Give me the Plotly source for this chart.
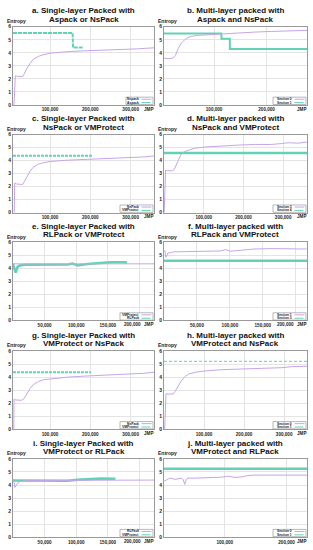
import plotly.graph_objects as go

W, H = 313, 550

# ---------------- data ----------------
titles_l1 = ["a. Single-layer Packed with", "b. Multi-layer packed with",
             "c. Single-layer Packed with", "d. Multi-layer packed with",
             "e. Single-layer Packed with", "f. Multi-layer packed with",
             "g. Single-layer Packed with", "h. Multi-layer packed with",
             "i. Single-layer Packed with", "j. Multi-layer packed with"]
titles_l2 = ["Aspack or NsPack", "Aspack and NsPack", "NsPack or VMProtect",
             "NsPack and VMProtect", "RLPack or VMProtect", "RLPack and VMProtect",
             "VMProtect or NsPack", "VMProtect and NsPack", "VMProtect or RLPack",
             "VMProtect and RLPack"]
names_purple = ["Nspack", "Section 0", "NsPack", "Section 3", "VMProtect",
                "Section 1", "NsPack", "Section 0", "RLPack", "Section 0"]
names_green = ["Aspack", "Section 1", "VMProtect", "Section 4", "RLPack",
               "Section 3", "VMProtect", "Section 1", "VMProtect", "Section 1"]

x_ranges = [[8000, 358000], [4600, 277000], [8000, 358000], [0, 360000],
            [0, 223000], [0, 217000], [8000, 358000], [0, 357000],
            [0, 223000], [1600, 233000]]
x_ticks = [[100000, 200000, 300000], [100000, 200000], [100000, 200000, 300000],
           [100000, 200000, 300000], [50000, 100000, 150000, 200000],
           [50000, 100000, 150000, 200000], [100000, 200000, 300000],
           [100000, 200000, 300000], [50000, 100000, 150000, 200000],
           [100000, 200000]]
y_ticks = [0, 1, 2, 3, 4, 5, 6]

a_p_x = [10400, 13800, 17000, 32000, 35000, 42000, 50000, 58000, 71000, 83000,
         100000, 125000, 150000, 183000, 224000, 266000, 291000, 316000, 340000, 358000]
a_p_y = [0, 2.23, 2.2, 2.18, 2.33, 2.78, 3.16, 3.49, 3.72, 3.85,
         3.97, 4.05, 4.10, 4.15, 4.18, 4.23, 4.28, 4.30, 4.35, 4.38]
a_g_x = [8000, 156000, 157000, 181000]
a_g_y = [5.52, 5.52, 4.4, 4.4]

b_p_x = [4600, 12200, 21800, 26300, 31300, 37700, 47300, 56800, 69500, 88600,
         114000, 145800, 177700, 209500, 241300, 254000, 277000]
b_p_y = [3.6, 3.54, 3.6, 3.8, 4.3, 4.76, 5.11, 5.27, 5.34, 5.39,
         5.44, 5.52, 5.59, 5.64, 5.67, 5.72, 5.72]
b_g_x = [4600, 114000, 114000, 130000, 130000, 277000]
b_g_y = [5.49, 5.49, 5.07, 5.07, 4.3, 4.3]

c_p_x = [11000, 12200, 17000, 32000, 42000, 50000, 58000, 71000, 83000, 100000,
         141500, 183000, 224000, 266000, 307000, 332000, 358000]
c_p_y = [0, 2.27, 2.2, 2.17, 2.72, 3.17, 3.48, 3.73, 3.83, 3.93,
         4.03, 4.08, 4.13, 4.18, 4.23, 4.28, 4.36]
c_g_x = [8000, 204000]
c_g_y = [4.38, 4.38]

d_p_x = [500, 3900, 8900, 21600, 25800, 34300, 42700, 51100, 59600, 76500,
         101800, 144000, 186000, 228000, 270600, 296000, 312700, 338000, 350600, 360000]
d_p_y = [0, 3.27, 3.22, 3.22, 3.32, 3.98, 4.48, 4.69, 4.79, 4.94,
         5.04, 5.14, 5.19, 5.24, 5.24, 5.31, 5.37, 5.34, 5.39, 5.42]
d_g_x = [0, 360000]
d_g_y = [4.58, 4.58]

e_p_x = [0, 223000]
e_p_y = [4.35, 4.35]
e_g_x = [0, 2100, 4200, 7300, 11000, 18800, 86500, 94300, 102000, 117800,
         138600, 154300, 175000, 180300]
e_g_y = [4.35, 4.0, 3.67, 4.13, 4.23, 4.28, 4.3, 4.38, 4.23, 4.33,
         4.43, 4.48, 4.48, 4.46]

f_p_x = [1100, 3100, 6200, 8300, 14400, 34800, 60200, 85700, 93400, 101000,
         116300, 136700, 162000, 187600, 216700]
f_p_y = [5.4, 4.85, 5.2, 5.19, 5.27, 5.3, 5.32, 5.34, 5.44, 5.32,
         5.39, 5.49, 5.52, 5.49, 5.49]
f_g_x = [0, 217000]
f_g_y = [4.58, 4.58]

g_p_x = [10000, 10400, 15000, 29600, 35000, 42000, 50000, 58000, 71000, 83000,
         100000, 141500, 183000, 224000, 266000, 307000, 332000, 358000]
g_p_y = [0, 2.3, 2.25, 2.23, 2.35, 2.73, 3.11, 3.42, 3.67, 3.8,
         3.87, 4.0, 4.08, 4.13, 4.18, 4.23, 4.3, 4.38]
g_g_x = [8000, 201000]
g_g_y = [4.38, 4.38]

h_p_x = [1700, 5000, 10000, 23000, 27500, 35800, 44000, 52500, 60800, 77500,
         102500, 144000, 186000, 227500, 269000, 294000, 319000, 344000, 357000]
h_p_y = [0, 2.73, 2.71, 2.71, 2.91, 3.37, 3.75, 4.05, 4.23, 4.38,
         4.48, 4.58, 4.63, 4.68, 4.68, 4.73, 4.81, 4.81, 4.84]
h_g_x = [0, 357000]
h_g_y = [5.22, 5.22]

i_p_x = [0, 1000, 3100, 5700, 8300, 13500, 30000, 223000]
i_p_y = [4.38, 4.38, 3.82, 4.07, 4.22, 4.3, 4.35, 4.38]
i_g_x = [0, 34400, 86500, 102000, 123000, 138600, 162000]
i_g_y = [4.35, 4.33, 4.33, 4.4, 4.45, 4.5, 4.48]

j_p_x = [2100, 5500, 10900, 16300, 19000, 24400, 29800, 32500, 34000, 35200,
         37900, 40600, 51400, 83800, 94600, 105400, 116200, 127000, 137800, 148600,
         175700, 202600, 233000]
j_p_y = [4.3, 4.38, 4.53, 4.48, 4.43, 4.48, 4.53, 4.43, 4.2, 4.05,
         4.45, 4.53, 4.53, 4.58, 4.6, 4.68, 4.58, 4.62, 4.73, 4.76,
         4.76, 4.76, 4.76]
j_g_x = [0, 233000]
j_g_y = [5.24, 5.24]

purple_series = [(a_p_x, a_p_y), (b_p_x, b_p_y), (c_p_x, c_p_y), (d_p_x, d_p_y),
                 (e_p_x, e_p_y), (f_p_x, f_p_y), (g_p_x, g_p_y), (h_p_x, h_p_y),
                 (i_p_x, i_p_y), (j_p_x, j_p_y)]
green_series = [(a_g_x, a_g_y), (b_g_x, b_g_y), (c_g_x, c_g_y), (d_g_x, d_g_y),
                (e_g_x, e_g_y), (f_g_x, f_g_y), (g_g_x, g_g_y), (h_g_x, h_g_y),
                (i_g_x, i_g_y), (j_g_x, j_g_y)]

# ---------------- styles ----------------
PURPLE = "#c7a4ea"
GREEN = "#63d2b4"
green_width = [2, 2, 2, 2.5, 2.5, 2.5, 2, 1, 2.5, 2.5]
green_dash = ["4px,1px", "solid", "3px,1px", "solid", "solid", "solid",
              "3px,1px", "3px,2px", "solid", "solid"]
FONT = "Liberation Sans, Arial, sans-serif"
TICKSIZE = 4.6

col_px = [(13, 154), (164, 307)]
row_px = [(24, 103), (133, 212), (242, 321), (352, 431), (461, 540)]

fig = go.Figure()
layout = dict(width=W, height=H, margin=dict(l=0, r=0, t=0, b=0),
              paper_bgcolor="white", plot_bgcolor="white", showlegend=False,
              font=dict(family=FONT, color="#222"))
annotations = []
shapes = []

for k in range(10):
    r, c = divmod(k, 2)
    sfx = "" if k == 0 else str(k + 1)
    xa, ya = "x" + sfx, "y" + sfx
    x0p, x1p = col_px[c]
    t, b = row_px[r]
    wpx, hpx = x1p - x0p, b - t
    px, py = purple_series[k]
    gx, gy = green_series[k]
    fig.add_trace(go.Scatter(x=gx, y=gy, mode="lines", name=names_green[k],
                             xaxis=xa, yaxis=ya,
                             line=dict(color=GREEN, width=green_width[k], dash=green_dash[k])))
    fig.add_trace(go.Scatter(x=px, y=py, mode="lines", name=names_purple[k],
                             xaxis=xa, yaxis=ya,
                             line=dict(color=PURPLE, width=1)))
    ticktext = ["{:,}".format(v) for v in x_ticks[k]]
    last_px = (x_ticks[k][-1] - x_ranges[k][0]) / (x_ranges[k][1] - x_ranges[k][0]) * wpx
    nudged = wpx - last_px < 18
    if nudged:
        # last tick label is written just left of the "JMP" axis name
        ticktext[-1] = ""
        annotations.append(dict(text="<b>{:,}</b>".format(x_ticks[k][-1]),
                                xref=xa + " domain", yref=ya + " domain",
                                x=(wpx - 12) / wpx, y=-4.3 / hpx, xanchor="right",
                                yanchor="middle", showarrow=False, borderpad=0,
                                font=dict(size=TICKSIZE, family=FONT, color="#222")))
    layout["xaxis" + sfx] = dict(
        domain=[x0p / W, x1p / W], anchor=ya, range=x_ranges[k],
        tickvals=x_ticks[k], ticktext=ticktext, showline=True, mirror=True,
        linecolor="#9a9a9a", linewidth=1, showgrid=True, gridcolor="#e4e4e4",
        zeroline=False, ticks="", ticklen=0,
        tickfont=dict(size=TICKSIZE, family=FONT, color="#222", weight="bold"))
    layout["yaxis" + sfx] = dict(
        domain=[1 - b / H, 1 - t / H], anchor=xa, range=[0, 6],
        tickvals=y_ticks, showline=True, mirror=True, linecolor="#9a9a9a",
        linewidth=1, showgrid=True, gridcolor="#e4e4e4", zeroline=False,
        ticks="", ticklen=0,
        tickfont=dict(size=5, family=FONT, color="#222", weight="bold"))
    # title (two lines)
    for txt, dy in [(titles_l1[k], 16.0), (titles_l2[k], 7.6)]:
        annotations.append(dict(text="<b>" + txt + "</b>", xref="paper", yref="paper",
                                x=(x0p + x1p) / 2 / W, y=1 - (t - dy) / H,
                                xanchor="center", yanchor="middle", showarrow=False,
                                borderpad=0,
                                font=dict(size=8, family=FONT, color="#111")))
    # y axis label
    annotations.append(dict(text="<b>Entropy</b>", xref="paper", yref="paper",
                            x=(x0p - 7) / W, y=1 - (t - 5.8) / H, xanchor="left",
                            yanchor="middle", showarrow=False, borderpad=0,
                            font=dict(size=5, family=FONT, color="#222")))
    # x axis label
    annotations.append(dict(text="<b>JMP</b>", xref=xa + " domain", yref=ya + " domain",
                            x=(wpx - 0.5) / wpx, y=-4.3 / hpx, xanchor="right",
                            yanchor="middle", showarrow=False, borderpad=0,
                            font=dict(size=TICKSIZE, family=FONT, color="#222")))
    # legend box
    tw = max(len(names_purple[k]), len(names_green[k])) * 2.0
    right = wpx - 1
    left = right - tw - 15
    shapes.append(dict(type="rect", xref=xa + " domain", yref=ya + " domain",
                       x0=left / wpx, x1=right / wpx, y0=0.4 / hpx, y1=7.8 / hpx,
                       line=dict(color="#888", width=0.6), fillcolor="white"))
    for nm, colr, dsh, yy in [(names_purple[k], PURPLE, "solid", 5.7),
                              (names_green[k], GREEN, "dash", 2.3)]:
        annotations.append(dict(text="<b>" + nm + "</b>", xref=xa + " domain",
                                yref=ya + " domain", x=(right - 13.5) / wpx,
                                y=yy / hpx, xanchor="right", yanchor="middle",
                                showarrow=False, borderpad=0,
                                font=dict(size=3.3, family=FONT, color="#222")))
        shapes.append(dict(type="line", xref=xa + " domain", yref=ya + " domain",
                           x0=(right - 11.5) / wpx, x1=(right - 1.5) / wpx,
                           y0=yy / hpx, y1=yy / hpx,
                           line=dict(color=colr, width=1, dash=dsh)))

layout["annotations"] = annotations
layout["shapes"] = shapes
fig.update_layout(**layout)
fig.write_html("out.html", config={"displayModeBar": False},
               post_script="document.body.style.margin='0';document.body.style.padding='0';")
